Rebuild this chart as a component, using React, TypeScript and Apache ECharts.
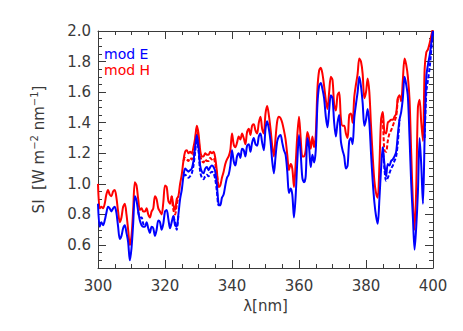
import React, { useEffect, useRef } from "react";
import * as echarts from "echarts";

// wavelength grid (nm), 0.5 nm step from 300 to 400
const wavelengths: number[] = Array.from({ length: 201 }, (_, i) => 300 + i * 0.5);

// mod E (blue, solid)
const modE: number[] = [
  0.87, 0.72, 0.75, 0.73, 0.76, 0.81, 0.85, 0.84, 0.82, 0.84,
  0.85, 0.81, 0.72, 0.64, 0.66, 0.71, 0.73, 0.68, 0.62, 0.50,
  0.58, 0.74, 0.92, 0.89, 0.82, 0.76, 0.73, 0.72, 0.72, 0.75,
  0.71, 0.68, 0.72, 0.71, 0.66, 0.70, 0.76, 0.75, 0.70, 0.74,
  0.82, 0.83, 0.77, 0.71, 0.75, 0.79, 0.73, 0.72, 0.80, 0.90,
  0.96, 1.05, 1.10, 1.09, 1.08, 1.09, 1.10, 1.15, 1.24, 1.32,
  1.24, 1.12, 1.08, 1.07, 1.10, 1.11, 1.09, 1.11, 1.12, 1.11,
  1.08, 0.99, 0.87, 0.86, 0.91, 0.93, 0.99, 1.04, 1.06, 1.12,
  1.22, 1.15, 1.12, 1.18, 1.20, 1.17, 1.23, 1.22, 1.18, 1.25,
  1.26, 1.21, 1.27, 1.30, 1.26, 1.25, 1.31, 1.33, 1.27, 1.22,
  1.36, 1.41, 1.36, 1.28, 1.15, 1.07, 1.18, 1.28, 1.31, 1.32,
  1.27, 1.22, 1.19, 1.08, 0.94, 0.97, 0.93, 0.78, 0.92, 1.15,
  1.32, 1.20, 1.04, 1.01, 1.05, 1.30, 1.24, 1.11, 1.19, 1.14,
  1.22, 1.52, 1.64, 1.66, 1.62, 1.56, 1.44, 1.37, 1.48, 1.58,
  1.56, 1.40, 1.31, 1.40, 1.45, 1.28, 1.22, 1.18, 1.10, 1.12,
  1.28, 1.30, 1.26, 1.43, 1.52, 1.60, 1.70, 1.64, 1.53, 1.38,
  1.42, 1.49, 1.40, 1.20, 1.02, 0.88, 0.79, 0.74, 0.90, 1.10,
  1.24, 1.13, 1.05, 1.13, 1.12, 1.15, 1.16, 1.18, 1.21, 1.32,
  1.42, 1.47, 1.56, 1.70, 1.65, 1.57, 1.30, 1.00, 0.78, 0.57,
  0.72, 0.95, 1.30, 1.12, 0.87, 1.30, 1.70, 1.78, 1.84, 1.92,
  2.0,
];

// mod H (red, solid)
const modH: number[] = [
  1.00, 0.84, 0.85, 0.84, 0.87, 0.93, 0.96, 0.93, 0.92, 0.95,
  0.96, 0.91, 0.82, 0.75, 0.78, 0.85, 0.87, 0.80, 0.70, 0.60,
  0.66, 0.83, 1.01, 0.99, 0.90, 0.83, 0.84, 0.82, 0.82, 0.84,
  0.80, 0.78, 0.82, 0.84, 0.92, 0.90, 0.84, 0.82, 0.80, 0.88,
  0.99, 0.98, 0.89, 0.87, 0.92, 0.86, 0.83, 0.90, 0.92, 1.00,
  1.06, 1.15, 1.21, 1.22, 1.20, 1.21, 1.20, 1.24, 1.30, 1.38,
  1.33, 1.22, 1.18, 1.18, 1.20, 1.19, 1.19, 1.21, 1.20, 1.21,
  1.17, 1.08, 0.98, 0.99, 1.04, 1.08, 1.13, 1.16, 1.18, 1.22,
  1.33, 1.26, 1.24, 1.27, 1.31, 1.29, 1.33, 1.30, 1.26, 1.34,
  1.36, 1.32, 1.38, 1.39, 1.35, 1.33, 1.40, 1.44, 1.36, 1.33,
  1.46, 1.51, 1.45, 1.36, 1.25, 1.18, 1.30, 1.41, 1.44, 1.43,
  1.40, 1.35, 1.29, 1.19, 1.09, 1.13, 1.10, 0.98, 1.13, 1.32,
  1.44, 1.30, 1.18, 1.18, 1.22, 1.34, 1.30, 1.23, 1.31, 1.24,
  1.32, 1.62, 1.74, 1.76, 1.72, 1.64, 1.55, 1.49, 1.60, 1.70,
  1.68, 1.52, 1.48, 1.58, 1.60, 1.43, 1.38, 1.38, 1.33, 1.30,
  1.45, 1.46, 1.40, 1.57, 1.65, 1.72, 1.82, 1.80, 1.72, 1.56,
  1.60, 1.69, 1.60, 1.38, 1.18, 1.02, 0.94, 0.91, 1.12, 1.42,
  1.47, 1.34, 1.33, 1.40, 1.41, 1.42, 1.42, 1.44, 1.46, 1.56,
  1.58, 1.54, 1.68, 1.82, 1.78, 1.70, 1.55, 1.20, 0.88, 0.70,
  0.98, 1.50, 1.55, 1.40, 1.28, 1.75, 1.86, 1.88, 1.92, 1.97,
  2.02,
];

// dashed variants, only where they depart from the solid curves (null = gap)
const modEDashWl: number[] = [
  312, 312.5, 313, 313.5, 314, 314,
  322.5, 323, 323.5, 324, 324,
  325.5, 326, 326.5, 327, 327.5, 328, 328.5, 329, 329.5, 330, 330.5, 331, 331.5, 332, 332.5, 333, 333.5, 334, 334.5, 335, 335.5, 336, 336.5, 336.5,
  385, 385.5, 386, 386.5, 387, 387.5, 388, 388.5, 389, 389.5, 390, 390,
  397.5, 398, 398.5, 399, 399.5, 400,
];
const modEDash: (number | null)[] = [
  0.82, 0.78, 0.78, 0.74, 0.72, null,
  0.79, 0.75, 0.70, 0.80, null,
  1.05, 1.06, 1.05, 1.04, 1.05, 1.07, 1.12, 1.21, 1.30, 1.22, 1.08, 1.04, 1.03, 1.05, 1.06, 1.05, 1.07, 1.08, 1.07, 1.03, 0.95, 0.86, 0.86, null,
  1.24, 1.10, 1.02, 1.04, 1.07, 1.10, 1.12, 1.15, 1.18, 1.27, 1.42, null,
  1.30, 1.60, 1.68, 1.76, 1.88, 2.0,
];

const modHDashWl: number[] = [
  322, 322.5, 323, 323.5, 324, 324,
  325.5, 326, 326.5, 327, 327.5, 328, 328.5, 329, 329.5, 330, 330.5, 331, 331.5, 332, 332.5, 333, 333.5, 334, 334.5, 335, 335.5, 336, 336,
  384.5, 385, 385.5, 386, 386.5, 387, 387.5, 388, 388.5, 389, 389.5,
];
const modHDash: (number | null)[] = [
  0.92, 0.83, 0.80, 0.86, 0.92, null,
  1.15, 1.17, 1.16, 1.15, 1.17, 1.16, 1.20, 1.27, 1.36, 1.30, 1.19, 1.15, 1.14, 1.16, 1.15, 1.15, 1.17, 1.16, 1.17, 1.13, 1.06, 0.98, null,
  1.42, 1.40, 1.22, 1.21, 1.28, 1.33, 1.35, 1.38, 1.41, 1.44, 1.56,
];

const legendLabels = ["mod E", "mod H"];
const BLUE = "#0000ff";
const RED = "#ff0000";
const AXIS = "#3a3a3a";
const FONT = "DejaVu Sans";

function pairs(xs: number[], ys: (number | null)[]) {
  return xs.map((x, i) => [x, ys[i] == null ? "-" : ys[i]]);
}

export default function App() {
  const ref = useRef<HTMLDivElement>(null);
  useEffect(() => {
    if (!ref.current) return;
    const chart = echarts.init(ref.current, undefined, { renderer: "svg" });
    const gridL = 98;
    const gridT = 31;
    const gridW = 335;
    const gridH = 237;
    const yMin = 0.45;
    const yMax = 2.0;
    const h2 = ((yMax - 0.6) / (yMax - yMin)) * gridH;

    const tickLabel = { color: AXIS, fontFamily: FONT, fontSize: 15 };

    chart.setOption({
      animation: false,
      backgroundColor: "#ffffff",
      grid: [
        { left: gridL, top: gridT, width: gridW, height: gridH, containLabel: false },
        { left: gridL, top: gridT, width: gridW, height: h2, containLabel: false },
      ],
      xAxis: [
        {
          gridIndex: 0, type: "value", position: "bottom", min: 300, max: 400, interval: 20,
          axisLine: { show: true, lineStyle: { color: AXIS, width: 1 } },
          axisTick: { show: true, inside: true, length: 8, lineStyle: { color: AXIS } },
          minorTick: { show: true, splitNumber: 4, length: 4, lineStyle: { color: AXIS } },
          axisLabel: { ...tickLabel, margin: 10 },
          splitLine: { show: false },
          name: "λ[nm]", nameLocation: "middle", nameGap: 30,
          nameTextStyle: { color: AXIS, fontFamily: FONT, fontSize: 15 },
        },
        {
          gridIndex: 0, type: "value", position: "top", min: 300, max: 400, interval: 20,
          axisLine: { show: true, lineStyle: { color: AXIS, width: 1 } },
          axisTick: { show: true, inside: true, length: 8, lineStyle: { color: AXIS } },
          minorTick: { show: true, splitNumber: 4, length: 4, lineStyle: { color: AXIS } },
          axisLabel: { show: false },
          splitLine: { show: false },
        },
        { gridIndex: 1, type: "value", min: 300, max: 400, show: false },
      ],
      yAxis: [
        {
          gridIndex: 0, type: "value", position: "left", min: yMin, max: yMax, interval: 0.05,
          axisLine: { show: true, lineStyle: { color: AXIS, width: 1 } },
          axisTick: { show: true, inside: true, length: 4, lineStyle: { color: AXIS } },
          axisLabel: { show: false },
          splitLine: { show: false },
          name: "SI  [W m{sup|−2} nm{sup|−1}]", nameLocation: "middle", nameGap: 49, nameRotate: 90,
          nameTextStyle: {
            color: AXIS, fontFamily: FONT, fontSize: 15,
            rich: { sup: { color: AXIS, fontFamily: FONT, fontSize: 10, padding: [0, 0, 10, 0] } },
          },
        },
        {
          gridIndex: 0, type: "value", position: "right", min: yMin, max: yMax, interval: 0.05,
          axisLine: { show: true, lineStyle: { color: AXIS, width: 1 } },
          axisTick: { show: true, inside: true, length: 4, lineStyle: { color: AXIS } },
          axisLabel: { show: false },
          splitLine: { show: false },
        },
        {
          gridIndex: 1, type: "value", position: "left", min: 0.6, max: yMax, interval: 0.2,
          axisLine: { show: false },
          axisTick: { show: true, inside: true, length: 8, lineStyle: { color: AXIS } },
          axisLabel: { ...tickLabel, margin: 7, formatter: (v: number) => v.toFixed(1) },
          splitLine: { show: false },
        },
        {
          gridIndex: 1, type: "value", position: "right", min: 0.6, max: yMax, interval: 0.2,
          axisLine: { show: false },
          axisTick: { show: true, inside: true, length: 8, lineStyle: { color: AXIS } },
          axisLabel: { show: false },
          splitLine: { show: false },
        },
      ],
      series: [
        {
          name: legendLabels[1], type: "line", xAxisIndex: 0, yAxisIndex: 0,
          data: pairs(wavelengths, modH), showSymbol: false, smooth: 0.3,
          lineStyle: { color: RED, width: 2 }, z: 2,
        },
        {
          name: legendLabels[1] + " dash", type: "line", xAxisIndex: 0, yAxisIndex: 0,
          data: pairs(modHDashWl, modHDash), showSymbol: false, smooth: 0.3, connectNulls: false,
          lineStyle: { color: RED, width: 2, type: [4, 2] }, z: 3,
        },
        {
          name: legendLabels[0], type: "line", xAxisIndex: 0, yAxisIndex: 0,
          data: pairs(wavelengths, modE), showSymbol: false, smooth: 0.3,
          lineStyle: { color: BLUE, width: 2 }, z: 4,
        },
        {
          name: legendLabels[0] + " dash", type: "line", xAxisIndex: 0, yAxisIndex: 0,
          data: pairs(modEDashWl, modEDash), showSymbol: false, smooth: 0.3, connectNulls: false,
          lineStyle: { color: BLUE, width: 2, type: [4, 2] }, z: 5,
        },
      ],
      graphic: [
        {
          type: "text", left: 104, top: 47, z: 10,
          style: { text: legendLabels[0], fill: BLUE, font: `14px "${FONT}"` },
        },
        {
          type: "text", left: 104, top: 63, z: 10,
          style: { text: legendLabels[1], fill: RED, font: `14px "${FONT}"` },
        },
      ],
    });
    return () => chart.dispose();
  }, []);
  return <div ref={ref} style={{ width: 463, height: 331, position: "absolute", left: 0, top: 0 }} />;
}
